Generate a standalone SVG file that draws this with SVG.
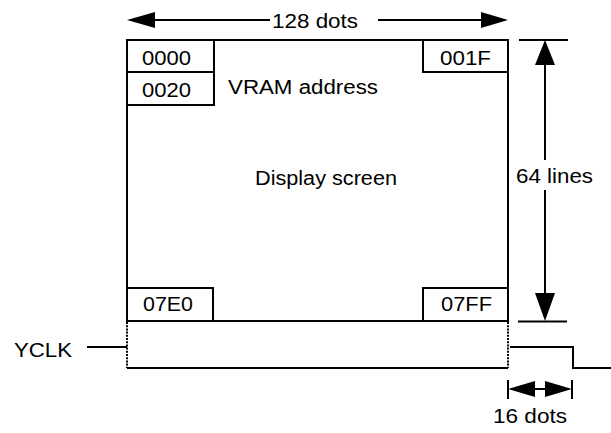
<svg xmlns="http://www.w3.org/2000/svg" width="611" height="433" viewBox="0 0 611 433">
<style>
.ln{stroke:#000;stroke-width:2;fill:none}
.bx{stroke:#000;stroke-width:2;fill:#fff}
.dt{stroke:#000;stroke-width:2;fill:none;stroke-dasharray:2,1.2}
.hd{fill:#000;stroke:none}
text{font-family:"Liberation Sans",Arial,sans-serif;font-size:20px;fill:#000}
</style>
<rect width="611" height="433" fill="#fff"/>
<g id="screen">
<rect class="bx" x="127" y="40" width="381" height="281"/>
<text x="255" y="185" textLength="142" lengthAdjust="spacingAndGlyphs">Display screen</text>
<text x="228" y="94" textLength="150" lengthAdjust="spacingAndGlyphs">VRAM address</text>
</g>
<g id="addr0000"><rect class="bx" x="127" y="40" width="87" height="32"/><text x="142" y="65" textLength="49" lengthAdjust="spacingAndGlyphs">0000</text></g>
<g id="addr0020"><rect class="bx" x="127" y="72" width="87" height="33"/><text x="142" y="97" textLength="49" lengthAdjust="spacingAndGlyphs">0020</text></g>
<g id="addr001F"><rect class="bx" x="423" y="40" width="85" height="32"/><text x="440" y="65" textLength="51" lengthAdjust="spacingAndGlyphs">001F</text></g>
<g id="addr07E0"><rect class="bx" x="127" y="288" width="86" height="33"/><text x="143" y="311" textLength="50" lengthAdjust="spacingAndGlyphs">07E0</text></g>
<g id="addr07FF"><rect class="bx" x="423" y="288" width="85" height="33"/><text x="441" y="311" textLength="51" lengthAdjust="spacingAndGlyphs">07FF</text></g>
<g id="labels">
<text x="272" y="28" textLength="86" lengthAdjust="spacingAndGlyphs">128 dots</text>
<text x="516" y="183" textLength="77" lengthAdjust="spacingAndGlyphs">64 lines</text>
<text x="14" y="357" textLength="58" lengthAdjust="spacingAndGlyphs">YCLK</text>
<text x="493" y="423" textLength="74" lengthAdjust="spacingAndGlyphs">16 dots</text>
</g>
<g id="connectors">
<path class="ln" d="M140 20H270M378 20H495"/>
<polygon class="hd" points="127,20 155,12 155,28"/>
<polygon class="hd" points="508,20 481,12 481,28"/>
<path class="ln" d="M519 40H568M518 321.5H567M545 55V160M545 190V305"/>
<polygon class="hd" points="545,40 535,65 555,65"/>
<polygon class="hd" points="545,321 535,293 555,293"/>
<path class="ln" d="M508 380V399M572 380V399M520 389H560"/>
<polygon class="hd" points="508,389 535,381 535,397"/>
<polygon class="hd" points="572,389 545,381 545,397"/>
<path class="ln" d="M87 347H127M127 368H508M510 347H573V368H611"/>
<path class="dt" d="M127 322V368M508 322V368"/>
</g>
</svg>
